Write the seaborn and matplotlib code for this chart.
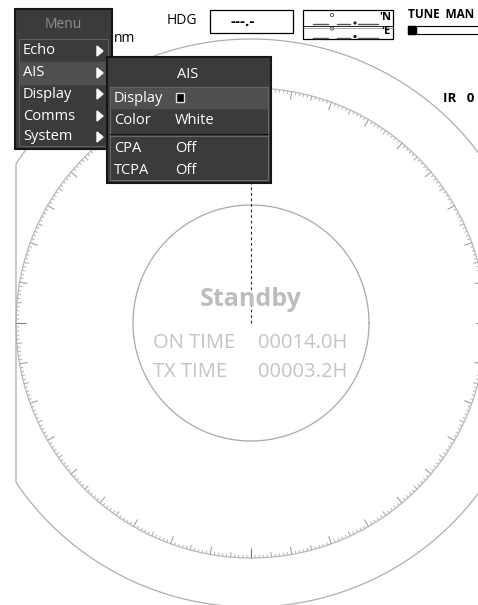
import numpy as np
import pandas as pd
import matplotlib.pyplot as plt
import seaborn as sns
from matplotlib.patches import Rectangle, Polygon, Circle
from matplotlib.collections import LineCollection

sns.set_theme(style="white")
plt.rcParams['font.family'] = ['Open Sans', 'DejaVu Sans']

# menu contents
menu_title = 'Menu'
menu_items = ['Echo', 'AIS', 'Display', 'Comms', 'System']
menu_selected = 'AIS'
sub_title = 'AIS'
sub_labels = ['Display', 'Color', 'CPA', 'TCPA']
sub_values = ['', 'White', 'Off', 'Off']

# status readouts
status_title = 'Standby'
status_labels = ['ON TIME', 'TX TIME']
status_values = ['00014.0H', '00003.2H']

# header fields
hdg_label = 'HDG'
hdg_value = '---.-'
pos_suffix = ["'N", "'E"]
tune_label = 'TUNE  MAN'
range_unit = 'nm'
ir_label = 'IR   0'

# radar geometry (pixels)
cx, cy = 251, 323
ring_radii = {'inner': 118, 'bearing': 235, 'outer': 284}
ring_colors = {'inner': '#a9a9a9', 'bearing': '#b8b8b8', 'outer': '#aeaeae'}

W, H = 478, 605
fig = plt.figure(figsize=(W / 100, H / 100), dpi=100)
ax = fig.add_axes([0, 0, 1, 1])
ax.set_xlim(0, W)
ax.set_ylim(H, 0)
ax.axis('off')

# circles, outer one limited by the display edges
theta = np.linspace(0, 2 * np.pi, 721)
rows = []
for name, r in ring_radii.items():
    x = cx + r * np.cos(theta)
    y = cy + r * np.sin(theta)
    if name == 'outer':
        x = np.clip(x, 16, 486)
    rows.append(pd.DataFrame({'x': x, 'y': y, 'ring': name}))
circles = pd.concat(rows, ignore_index=True)
for name, grp in circles.groupby('ring'):
    sns.lineplot(data=grp, x='x', y='y', sort=False, estimator=None,
                 color=ring_colors[name], lw=0.9, ax=ax)
ax.set_xlim(0, W)
ax.set_ylim(H, 0)
ax.set_xlabel('')
ax.set_ylabel('')

# bearing scale ticks, pointing inward
segs, cols = [], []
rb = ring_radii['bearing']
for d in range(360):
    if d % 90 == 0:
        ln, c = 10, '#7a7a7a'
    elif d % 10 == 0:
        ln, c = 8, '#a0a0a0'
    elif d % 5 == 0:
        ln, c = 5, '#b0b0b0'
    else:
        ln, c = 3, '#bababa'
    a = np.deg2rad(d - 90)
    segs.append([(cx + rb * np.cos(a), cy + rb * np.sin(a)),
                 (cx + (rb - ln) * np.cos(a), cy + (rb - ln) * np.sin(a))])
    cols.append(c)
ax.add_collection(LineCollection(segs, colors=cols, linewidths=0.8, zorder=2))

# heading line
ax.plot([cx, cx], [cy, cy - rb], color='#2a2a2a', lw=0.8, ls=(0, (2.5, 2.5)), zorder=3)

# status text
ax.text(cx, 300, status_title, ha='center', va='center', fontsize=18,
        fontweight='bold', color='#bdbdbd', zorder=4)
for i, (lab, val) in enumerate(zip(status_labels, status_values)):
    yy = 343 + 29 * i
    ax.text(153, yy, lab, ha='left', va='center', fontsize=14.5, color='#c4c4c4', zorder=4)
    ax.text(258, yy, val, ha='left', va='center', fontsize=14.5, color='#c4c4c4', zorder=4)

# header bar
ax.text(167, 21, hdg_label, ha='left', va='center', fontsize=10, color='black')
ax.add_patch(Rectangle((210, 10), 83, 23, fill=False, ec='black', lw=0.9))
ax.text(243, 22, hdg_value, ha='center', va='center', fontsize=11, fontweight='bold', color='black')

ax.add_patch(Rectangle((303, 10), 90, 29, fill=False, ec='black', lw=0.9))
ax.plot([303, 393], [26, 26], color='black', lw=0.6)
ax.plot([303, 393], [27.5, 27.5], color='#888888', lw=0.5)
for k, suf in enumerate(pos_suffix):
    dy = 13.5 * k
    for x0, x1 in [(313, 328), (337, 350), (358, 378)]:
        ax.plot([x0, x1], [24 + dy, 24 + dy], color='#555555', lw=1.0)
    ax.add_patch(Circle((332, 15 + dy), 1.6, fill=False, ec='#444444', lw=0.6))
    ax.add_patch(Circle((355, 23 + dy), 0.9, color='#222222'))
    ax.text(391, 18 + dy, suf, ha='right', va='center', fontsize=8, fontweight='bold', color='black')

ax.text(408, 15, tune_label, ha='left', va='center', fontsize=8.5, fontweight='bold', color='black')
ax.add_patch(Rectangle((408, 26), 75, 8, fill=False, ec='black', lw=0.8))
ax.add_patch(Rectangle((408, 26), 8, 8, color='black'))

ax.text(114, 39, range_unit, ha='left', va='center', fontsize=10, color='black')
ax.text(443, 98, ir_label, ha='left', va='center', fontsize=9.5, fontweight='bold', color='black')


def arrow(x, y):
    ax.add_patch(Polygon([(x, y - 5), (x, y + 5), (x + 6, y)], closed=True,
                         color='white', zorder=7))


# main menu
ax.add_patch(Rectangle((15, 9), 97, 140, fc='#3b3b3b', ec='#161616', lw=1.5, zorder=5))
ax.add_patch(Rectangle((19, 39), 89, 107, fill=False, ec='#5e5e5e', lw=0.8, zorder=6))
ax.text(63, 25, menu_title, ha='center', va='center', fontsize=10, color='#8e8e8e', zorder=7)
item_y = [51, 73, 94, 116, 137]
for name, yy in zip(menu_items, item_y):
    if name == menu_selected:
        ax.add_patch(Rectangle((20, yy - 11), 87, 22, color='#505050', zorder=6))
    ax.text(23, yy, name, ha='left', va='center', fontsize=10.5, color='white', zorder=7)
    arrow(97, yy)

# AIS submenu
ax.add_patch(Rectangle((107, 57), 164, 126, fc='#3b3b3b', ec='#161616', lw=1.5, zorder=8))
ax.text(188, 75, sub_title, ha='center', va='center', fontsize=10.5, color='white', zorder=10)
ax.add_patch(Rectangle((110, 87), 158, 93, fill=False, ec='#6a6a6a', lw=0.8, zorder=9))
ax.add_patch(Rectangle((111, 88), 156, 20, color='#505050', zorder=9))
ax.plot([110, 268], [134, 134], color='#111111', lw=0.8, zorder=10)
ax.plot([110, 268], [135.5, 135.5], color='#6a6a6a', lw=0.8, zorder=10)
sub_y = [98, 120, 148, 170]
for lab, val, yy in zip(sub_labels, sub_values, sub_y):
    ax.text(114, yy, lab, ha='left', va='center', fontsize=10.5, color='white', zorder=10)
    if val:
        ax.text(175, yy, val, ha='left', va='center', fontsize=10.5, color='white', zorder=10)
# display checkbox
ax.add_patch(Rectangle((176, 93), 8, 9, fc='black', ec='#dddddd', lw=1.0, zorder=11))

fig.savefig('out.png', dpi=100)
